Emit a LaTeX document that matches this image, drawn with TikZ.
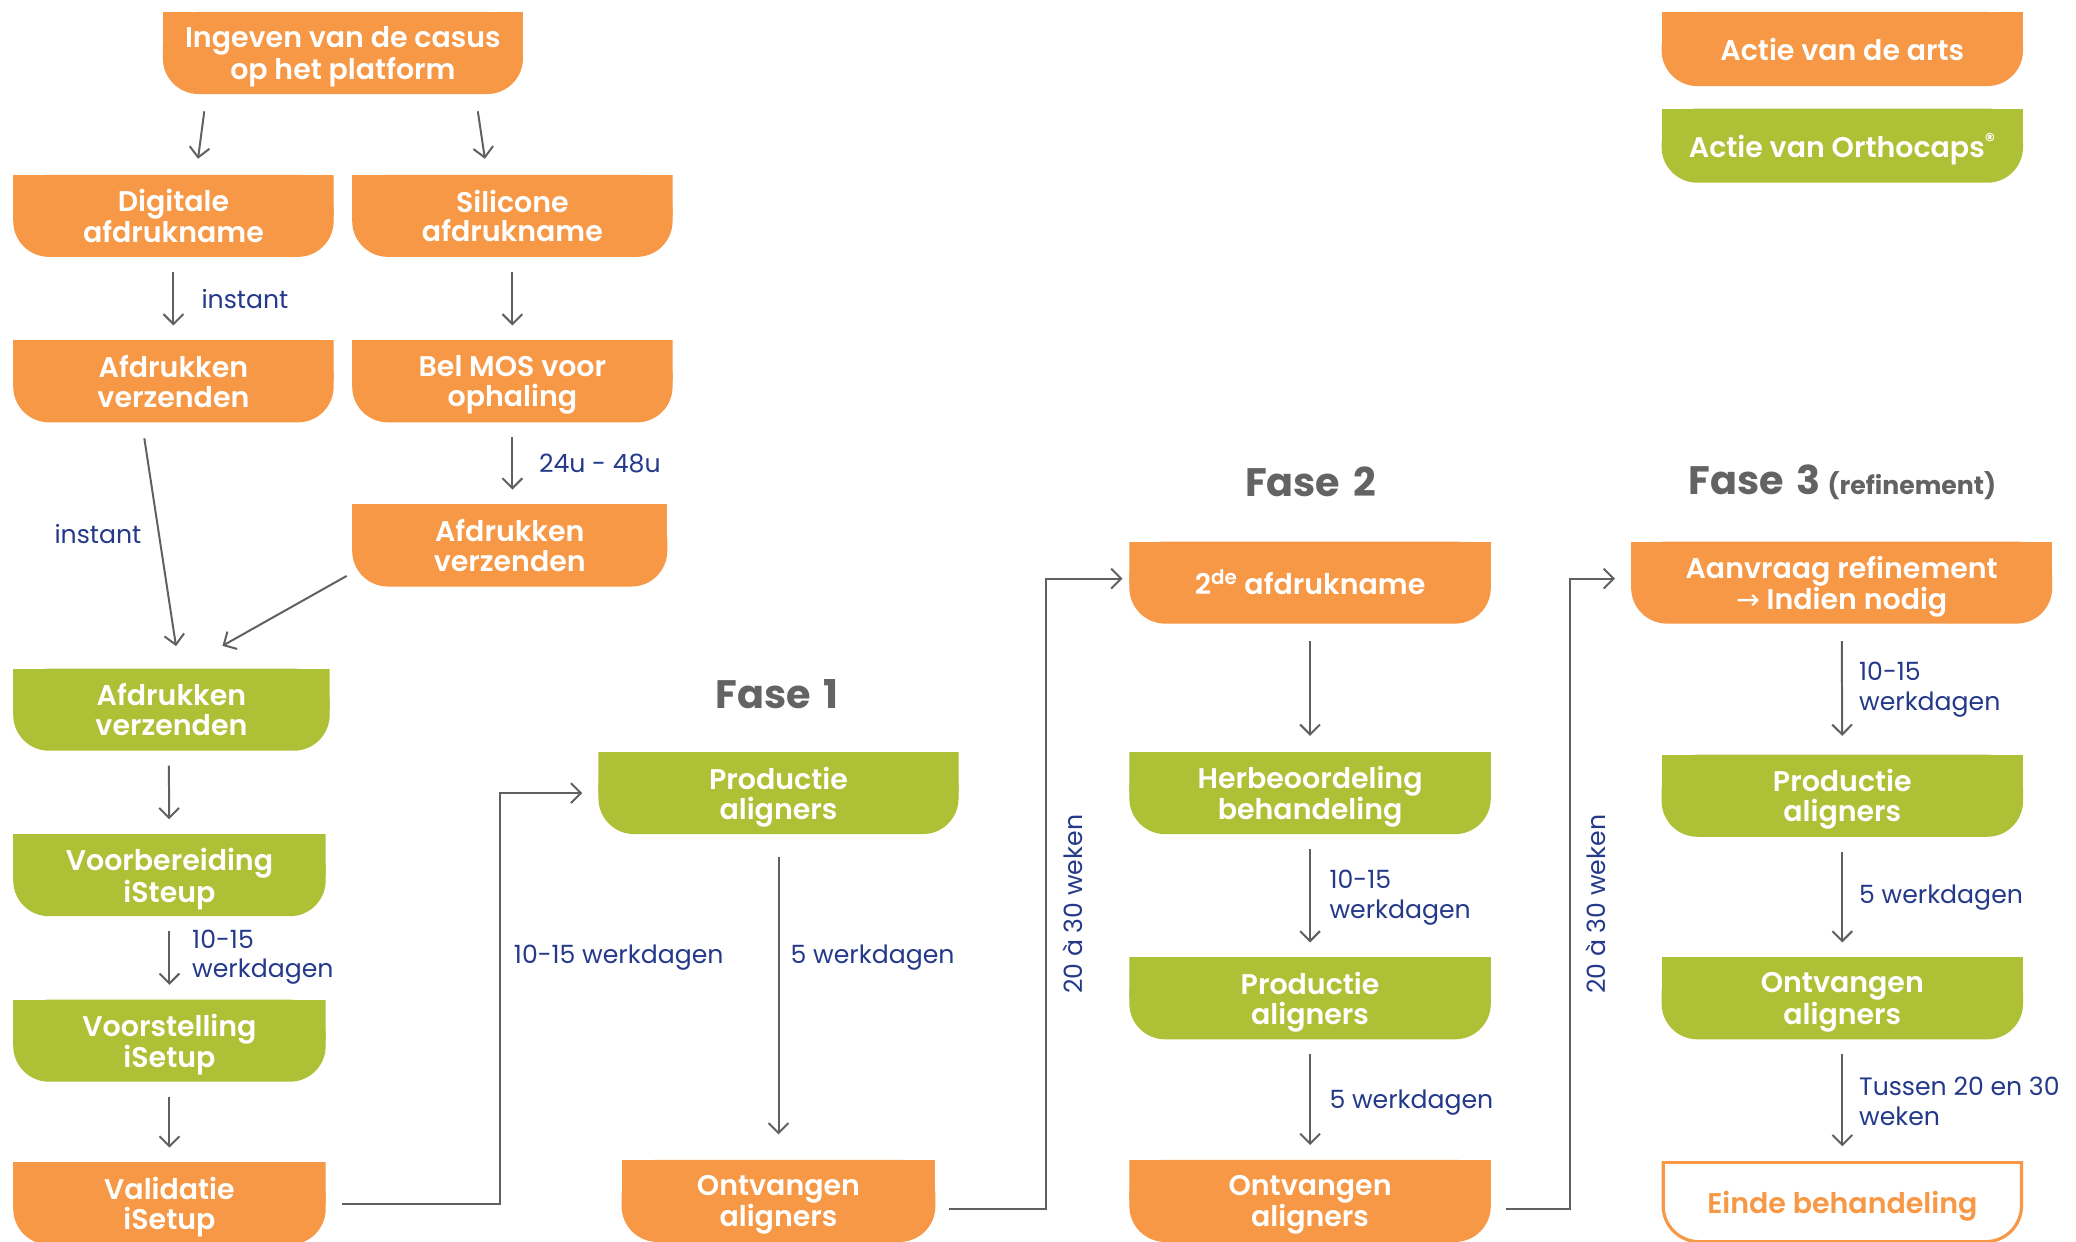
\documentclass[tikz,border=0pt]{standalone}
\usepackage{fontspec}
\setmainfont{Poppins}
\newfontfamily\medfont{Poppins SemiBold}
\newfontfamily\symfont{DejaVu Sans}
\usetikzlibrary{arrows.meta}
\definecolor{orng}{HTML}{F69845}
\definecolor{grn}{HTML}{AEC136}
\definecolor{arrgrey}{HTML}{606060}
\definecolor{lblblue}{HTML}{24398A}
\definecolor{fasegrey}{HTML}{636363}
\tikzset{
  pbox/.style={rectangle, inner sep=0pt, text=white, align=center, text depth=0pt,
    font=\medfont\fontsize{21.5}{22.5}\selectfont, minimum height=62pt,
    path picture={
      \fill[#1, rounded corners=27pt] (path picture bounding box.south west) rectangle (path picture bounding box.north east);
      \fill[#1] (path picture bounding box.north west) rectangle (path picture bounding box.east);}},
  obox/.style={pbox=orng},
  gbox/.style={pbox=grn},
  endbox/.style={rectangle, inner sep=0pt, text=orng, align=center, text depth=0pt,
    font=\medfont\fontsize{21.5}{22.5}\selectfont, minimum height=62pt,
    path picture={
      \draw[orng, line width=2.4pt, rounded corners=27pt] ([shift={(1.2pt,1.2pt)}]path picture bounding box.south west) rectangle ([shift={(-1.2pt,40pt)}]path picture bounding box.north east);
      \draw[orng, line width=2.4pt] ([yshift=-1.2pt]path picture bounding box.north west) -- ([yshift=-1.2pt]path picture bounding box.north east);}},
  arr/.style={draw=arrgrey, line width=1.5pt, -{Straight Barb[length=7.5pt,width=15pt]}, shorten <=11pt, shorten >=11pt},
  elb/.style={draw=arrgrey, line width=1.5pt, -{Straight Barb[length=7.5pt,width=15pt]}},
  lbl/.style={text=lblblue, anchor=west, align=left, inner sep=0pt, font=\fontsize{19}{22.5}\selectfont},
  fase/.style={text=fasegrey, inner sep=0pt, font=\fontsize{30}{34}\selectfont\bfseries},
}
\begin{document}
\begin{tikzpicture}[x=1pt, y=-1pt]
\clip (0,0) rectangle (1568,938);
\fill[white] (0,0) rectangle (1568,938);

% legend
\node[obox, minimum width=273pt, minimum height=56pt] (leg1) at (1391.5,37) {Actie van de arts};
\node[gbox, minimum width=273pt, minimum height=56pt] (leg2) at (1391.5,110) {Actie van Orthocaps\textsuperscript{®}};

% left part
\node[obox, minimum width=272pt, font=\medfont\fontsize{21.5}{24}\selectfont] (top) at (259,40) {Ingeven van de casus\\op het platform};
\node[obox, minimum width=242pt] (dig) at (131,163) {Digitale\\afdrukname};
\node[obox, minimum width=242pt] (sil) at (387,163) {Silicone\\afdrukname};
\node[obox, minimum width=242pt] (afz1) at (131,288) {Afdrukken\\verzenden};
\node[obox, minimum width=242pt] (bel) at (387,288) {Bel MOS voor\\ophaling};
\node[obox, minimum width=238pt] (afz2) at (385,412) {Afdrukken\\verzenden};
\node[gbox, minimum width=239pt] (gafz) at (129.5,536) {Afdrukken\\verzenden};
\node[gbox, minimum width=236pt] (voorb) at (128,661) {Voorbereiding\\iSteup};
\node[gbox, minimum width=236pt] (voorst) at (128,786) {Voorstelling\\iSetup};
\node[obox, minimum width=236pt] (valid) at (128,909) {Validatie\\iSetup};

\draw[arr, shorten <=13pt, shorten >=12pt] ([xshift=-103pt]top.south) -- ([xshift=17pt]dig.north);
\draw[arr, shorten <=13pt, shorten >=12pt] ([xshift=100pt]top.south) -- ([xshift=-19pt]sil.north);
\draw[arr] (dig) -- (afz1);
\node[lbl] (l1) at (152,226) {instant};
\draw[arr] (sil) -- (bel);
\draw[arr] (bel) -- ([xshift=2pt]afz2.north);
\node[lbl] (l2) at (407,350) {24u - 48u};
\draw[arr, shorten <=12pt, shorten >=17pt] ([xshift=-23.8pt]afz1.south) -- ([xshift=6pt]gafz.north);
\node[lbl] (l3) at (41,403) {instant};
\draw[elb] ([shift={(-4pt,-23pt)}]afz2.west) -- ([shift={(38.5pt,17pt)}]gafz.north);
\draw[arr] ([xshift=-2pt]gafz.south) -- (voorb);
\draw[arr] (voorb) -- (voorst);
\node[lbl] (l4) at (145,723) {10-15\\werkdagen};
\draw[arr] (voorst) -- (valid);

% Fase 1
\node[fase] (f1) at (587,524) {Fase\hspace{10pt}1};
\node[gbox, minimum width=272pt] (p1) at (588,599) {Productie\\aligners};
\node[obox, minimum width=237pt] (o1) at (588,907) {Ontvangen\\aligners};
\draw[arr, shorten <=17pt, shorten >=19pt] (p1) -- (o1);
\node[lbl] (l5) at (597,723) {5 werkdagen};
\draw[elb] ([xshift=12pt]valid.east) -| ([xshift=-74pt]p1.west) -- ([xshift=-12pt]p1.west);
\node[lbl] (l6) at (388,723) {10-15 werkdagen};

% Fase 2
\node[fase] (f2) at (990,364) {Fase\hspace{10pt}2};
\node[obox, minimum width=273pt] (a2) at (989.5,440) {2\textsuperscript{de} afdrukname};
\node[gbox, minimum width=273pt] (herb) at (989.5,599) {Herbeoordeling\\behandeling};
\node[gbox, minimum width=273pt] (p2) at (989.5,754) {Productie\\aligners};
\node[obox, minimum width=273pt] (o2) at (989.5,907) {Ontvangen\\aligners};
\draw[arr, shorten <=13pt, shorten >=12pt] (a2) -- (herb);
\draw[arr] (herb) -- (p2);
\node[lbl] (l7) at (1004,678) {10-15\\werkdagen};
\draw[arr] (p2) -- (o2);
\node[lbl] (l8) at (1004,833) {5 werkdagen};
\draw[elb] ([shift={(10pt,-6pt)}]o1.east) -| ([shift={(-63pt,3pt)}]a2.west) -- ([shift={(-5pt,3pt)}]a2.west);
\node[lbl, anchor=center, rotate=90] (l9) at (810,683) {20 à 30 weken};

% Fase 3
\node[fase, anchor=west] (f3) at (1275,364) {Fase\hspace{10pt}3\hspace{5pt}{\fontsize{19}{22}\selectfont (refinement)}};
\node[obox, minimum width=318pt] (aan) at (1391,440) {Aanvraag refinement\\{\symfont →} Indien nodig};
\node[gbox, minimum width=273pt] (p3) at (1391.5,601) {Productie\\aligners};
\node[gbox, minimum width=273pt] (o3) at (1391.5,754) {Ontvangen\\aligners};
\node[endbox, minimum width=273pt] (einde) at (1391.5,908) {Einde behandeling};
\draw[arr, shorten <=13pt, shorten >=14pt] (aan) -- (p3);
\node[lbl] (l10) at (1404,521) {10-15\\werkdagen};
\draw[arr] (p3) -- (o3);
\node[lbl] (l11) at (1404,678) {5 werkdagen};
\draw[arr] (o3) -- (einde);
\node[lbl] (l12) at (1404,832) {Tussen 20 en 30\\weken};
\draw[elb] ([shift={(11pt,-6pt)}]o2.east) -| ([shift={(-46pt,3pt)}]aan.west) -- ([shift={(-12pt,3pt)}]aan.west);
\node[lbl, anchor=center, rotate=90] (l13) at (1205,683) {20 à 30 weken};
\end{tikzpicture}
\end{document}
